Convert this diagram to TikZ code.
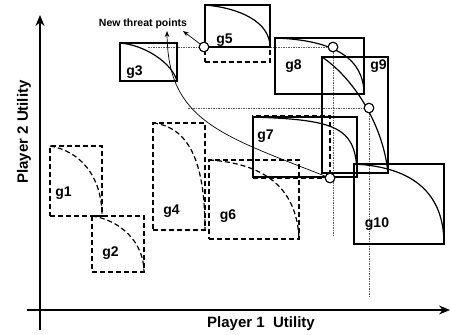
\documentclass[tikz,border=0pt]{standalone}
\usepackage{fontspec}
\setmainfont{Liberation Sans}
\usetikzlibrary{arrows.meta,positioning,calc}

\begin{document}
\begin{tikzpicture}[
  x=1pt, y=-1pt,
  game/.style={draw, rectangle, line width=1.2pt, inner sep=0pt, outer sep=0pt},
  oldgame/.style={game, dash pattern=on 5pt off 3pt},
  front/.style={line width=1.2pt},
  oldfront/.style={front, dash pattern=on 5pt off 3pt},
  tag/.style={font=\fontsize{14}{14}\selectfont\bfseries, inner sep=0pt},
  axlabel/.style={font=\fontsize{15}{15}\selectfont\bfseries, inner sep=0pt},
  note/.style={font=\fontsize{10.5}{10.5}\selectfont\bfseries, inner sep=0pt},
  guide/.style={black!65, line width=1pt, dash pattern=on 1.5pt off 1pt},
  threat/.style={draw, circle, fill=white, minimum size=9.5pt, inner sep=0pt, line width=1pt},
  axis/.style={line width=1.5pt, -{Stealth[length=11pt, width=9pt]}},
  arr/.style={-{Stealth[length=6pt, width=4.5pt]}, line width=0.7pt}
]
\useasboundingbox (0,0) rectangle (451,335);

% Axes
\draw[axis] (40,330) -- (40,15);
\draw[axis] (27,310) -- (450,310);
\node[axlabel, rotate=90] (ylab) at (24,132) {Player 2 Utility};
\node[axlabel] (xlab) at (261,324) {Player 1\ \ Utility};

% Threat points
\node[threat] (tp5) at (204,47) {};
\node[threat] (tp8) at (333,47) {};
\node[threat] (tp9) at (369,108) {};
\node[threat] (tp7) at (330,178) {};

% Projection guides
\draw[guide] (148,47) -- (tp8.center);
\draw[guide] (188,108) -- (tp9.center);
\draw[guide] (tp8.center) -- (333,235);
\draw[guide] (tp9.center) -- (369,296);

% Old games (dashed)
\node[oldgame, minimum width=52, minimum height=70] (g1) at (76,181) {};
\node[oldgame, minimum width=52, minimum height=56] (g2) at (118,244) {};
\node[oldgame, minimum width=52, minimum height=107] (g4) at (179,176.5) {};
\node[oldgame, minimum width=65, minimum height=57] (g5old) at (237.5,33.5) {};
\node[oldgame, minimum width=90, minimum height=79] (g6) at (254,199.5) {};
\node[oldgame, minimum width=77, minimum height=62] (g7old) at (291.5,147) {};

\draw[oldfront] (g1.north west) .. controls +(30,5) and +(0,-40) .. (g1.south east);
\draw[oldfront] (g2.north west) .. controls +(28,4) and +(0,-30) .. (g2.south east);
\draw[oldfront] (g4.north west) .. controls +(35,4) and +(0,-70) .. (g4.south east);
\draw[oldfront] (g6.north west) .. controls +(50,3) and +(-2,-55) .. (g6.south east);

% New games (solid)
\node[game, minimum width=57, minimum height=38] (g3) at (148.5,62) {};
\node[game, minimum width=65, minimum height=42] (g5) at (237.5,26) {};
\node[game, minimum width=104, minimum height=60] (g7) at (305,147) {};
\node[game, minimum width=89, minimum height=56] (g8) at (319.5,66) {};
\node[game, minimum width=66, minimum height=116] (g9) at (355,115) {};
\node[game, minimum width=90, minimum height=80] (g10) at (399,204) {};

\draw[front] (g3.north west) .. controls +(25,2) and +(-5,-18) .. (g3.south east);
\draw[front] (g5.north west) .. controls +(35,3) and +(0,-25) .. (g5.south east);
\draw[front] (g7.north west) .. controls +(85,3) and +(0,-50) .. (g7.south east);
\draw[front] (g8.north west) .. controls +(60,2) and +(0,-35) .. (g8.south east);
\draw[front] (g9.north west) .. controls +(30,20) and +(-5,-50) .. (g9.south east);
\draw[front] (g10.north west) .. controls +(60,3) and +(0,-50) .. (g10.south east);

% Game tags
\node[tag] (lab1) at (63.5,193) {g1};
\node[tag] (lab2) at (110.5,253) {g2};
\node[tag] (lab3) at (134.5,72) {g3};
\node[tag] (lab4) at (171.5,211) {g4};
\node[tag] (lab5) at (224.5,40) {g5};
\node[tag] (lab6) at (228,216) {g6};
\node[tag] (lab7) at (265.5,136) {g7};
\node[tag] (lab8) at (293.5,66) {g8};
\node[tag] (lab9) at (378.5,66) {g9};
\node[tag] (lab10) at (377,224) {g10};

% Threat points redrawn on top
\node[threat] at (tp5) {};
\node[threat] at (tp8) {};
\node[threat] at (tp9) {};
\node[threat] at (tp7) {};

% Annotation
\node[note] (ntp) at (143,24) {New threat points};
\coordinate (tip1) at (167,31);
\coordinate (tip2) at (183,31);
\draw[arr] (tp7) .. controls (220,135) and (168,120) .. (tip1);
\draw[arr] (tp5) -- (tip2);

\end{tikzpicture}
\end{document}
